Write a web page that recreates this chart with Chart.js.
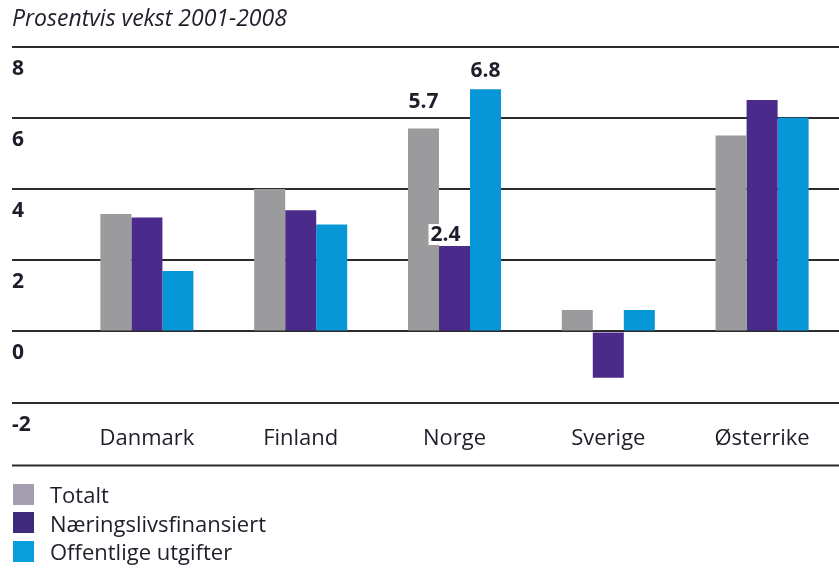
<!DOCTYPE html>
<html>
<head>
<meta charset="utf-8">
<script src="https://cdn.jsdelivr.net/npm/chart.js@4"></script>
<style>
  body { margin: 0; background: #fff; font-family: 'Open Sans', sans-serif; }
  #wrap { position: relative; width: 839px; height: 569px; }
  #legend { position: absolute; left: 13px; top: 480px; font-size: 22px; color: #1e1e2a; }
  .item { display: flex; align-items: center; height: 28.5px; }
  .box { width: 21px; height: 21px; margin-right: 16px; }
</style>
</head>
<body>
<div id="wrap">
  <canvas id="chart"></canvas>
  <div id="legend"></div>
</div>
<script>
// Data, lest av bildet
const land = ['Danmark', 'Finland', 'Norge', 'Sverige', 'Østerrike'];
const totalt = [3.3, 4.0, 5.7, 0.6, 5.5];
const naeringsliv = [3.2, 3.4, 2.4, -1.3, 6.5];
const offentlige = [1.7, 3.0, 6.8, 0.6, 6.0];
const yTicks = [-2, 0, 2, 4, 6, 8];
const merketLand = 'Norge'; // landet som har verdietiketter

const serier = [
  { label: 'Totalt', data: totalt, farge: '#9b9a9c', legendeFarge: '#a59eb0' },
  { label: 'Næringslivsfinansiert', data: naeringsliv, farge: '#4a2b8b', legendeFarge: '#3d2a7a' },
  { label: 'Offentlige utgifter', data: offentlige, farge: '#0897d6', legendeFarge: '#0a9ddb' }
];

Chart.defaults.font.family = "'Open Sans', sans-serif";

// Verdietiketter over stolpene for ett land
const verdiEtiketter = {
  id: 'verdiEtiketter',
  afterDatasetsDraw(chart) {
    const ctx = chart.ctx;
    const i = land.indexOf(merketLand);
    const forskyv = [[0, -20], [-9, -5], [0, -12]];
    ctx.save();
    ctx.font = "bold 21px 'Open Sans'";
    ctx.textAlign = 'center';
    ctx.textBaseline = 'alphabetic';
    chart.data.datasets.forEach((ds, d) => {
      const bar = chart.getDatasetMeta(d).data[i];
      const txt = ds.data[i].toFixed(1);
      const x = bar.x + forskyv[d][0];
      const y = bar.y + forskyv[d][1];
      const w = ctx.measureText(txt).width;
      ctx.fillStyle = '#fff';
      ctx.fillRect(x - w / 2 - 2, y - 17, w + 4, 21);
      ctx.fillStyle = '#1e1e2a';
      ctx.fillText(txt, x, y);
    });
    ctx.restore();
  }
};

// Linje under kategoriene
const bunnLinje = {
  id: 'bunnLinje',
  afterDraw(chart) {
    const ctx = chart.ctx;
    const y = chart.chartArea.bottom + 63;
    ctx.save();
    ctx.strokeStyle = '#2b2b2b';
    ctx.lineWidth = 2;
    ctx.beginPath();
    ctx.moveTo(12, y);
    ctx.lineTo(chart.width, y);
    ctx.stroke();
    ctx.restore();
  }
};

const ctx = document.getElementById('chart').getContext('2d');
const chart = new Chart(ctx, {
  type: 'bar',
  data: {
    labels: land,
    datasets: serier.map(s => ({
      label: s.label,
      data: s.data,
      backgroundColor: s.farge,
      borderWidth: 0,
      barPercentage: 1,
      categoryPercentage: 0.605
    }))
  },
  options: {
    responsive: true,
    maintainAspectRatio: false,
    animation: false,
    layout: { padding: { left: 12, right: 0, top: 0, bottom: 94 } },
    plugins: {
      legend: { display: false },
      tooltip: { enabled: false },
      title: {
        display: true,
        text: 'Prosentvis vekst 2001-2008',
        align: 'start',
        color: '#1e1e2a',
        font: { size: 23, style: 'italic', weight: 'normal' },
        padding: { top: 6, bottom: 13 }
      }
    },
    scales: {
      x: {
        grid: { display: false, drawTicks: false },
        border: { display: false },
        ticks: { color: '#1e1e2a', font: { size: 22 }, padding: 23 }
      },
      y: {
        min: -2,
        max: 8,
        afterBuildTicks: s => { s.ticks = yTicks.map(v => ({ value: v })); },
        afterFit: s => { s.width = 58; },
        grid: { color: '#2b2b2b', lineWidth: 2, tickLength: 58, drawTicks: true },
        border: { display: false },
        ticks: {
          crossAlign: 'far',
          labelOffset: 22,
          color: '#1e1e2a',
          font: { size: 21, weight: 'bold' }
        }
      }
    }
  },
  plugins: [verdiEtiketter, bunnLinje]
});

// Legende under figuren
const legende = document.getElementById('legend');
serier.forEach(s => {
  const rad = document.createElement('div');
  rad.className = 'item';
  rad.innerHTML = `<span class="box" style="background:${s.legendeFarge}"></span><span>${s.label}</span>`;
  legende.appendChild(rad);
});
</script>
</body>
</html>
